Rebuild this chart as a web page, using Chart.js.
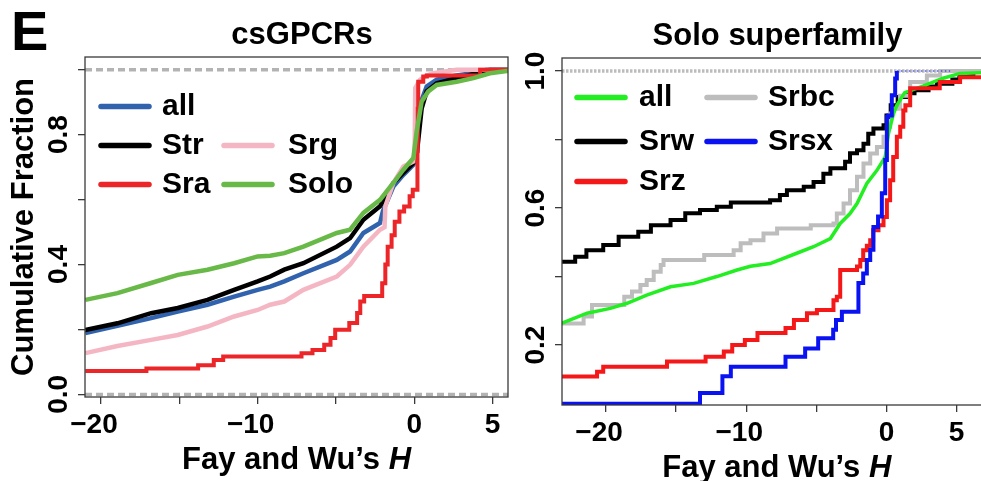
<!DOCTYPE html>
<html>
<head>
<meta charset="utf-8">
<title>Fay and Wu's H</title>
<script src="https://cdn.jsdelivr.net/npm/chart.js@4.4.1/dist/chart.umd.min.js"></script>
<style>
  html, body { margin: 0; padding: 0; background: #fff; overflow: hidden; }
  body { width: 981px; height: 481px; position: relative; }
  .panel { position: absolute; top: 0; }
  #wrapLeft { left: 0; }
  #wrapRight { left: 512px; }
</style>
</head>
<body>
<div class="panel" id="wrapLeft"><canvas id="chartLeft" width="512" height="481"></canvas></div>
<div class="panel" id="wrapRight"><canvas id="chartRight" width="488" height="481"></canvas></div>
<script>
// ============================================
// Cumulative fraction of Fay and Wu's H
// ============================================

// ── shared axis ticks ──
const X_TICKS = [-20, -15, -10, -5, 0, 5];
const X_LABELS = ['−20', '', '−10', '', '0', '5'];

// ── csGPCRs ──
const csYTicks = [0, 0.2, 0.4, 0.6, 0.8, 1.0];
const csYLabels = ['0.0', '', '0.4', '', '0.8', ''];
const csRefLevels = [0, 1];

const csAllH = [-21, -18.95, -16.8, -15.1, -13.2, -11.5, -10.0, -9.2, -8.3, -7.08, -4.95, -4.1, -3.25, -2.19, -2.0, -1.34, -0.7, -0.06, 0.15, 0.36, 0.79, 1.43, 2.7, 3.8, 4.6, 6];
const csAllF = [0.189, 0.211, 0.235, 0.255, 0.276, 0.301, 0.322, 0.332, 0.348, 0.373, 0.414, 0.44, 0.497, 0.528, 0.565, 0.64, 0.676, 0.707, 0.738, 0.892, 0.948, 0.969, 0.982, 0.99, 1.0, 1.0];

const csStrH = [-21, -18.95, -16.8, -15.1, -13.2, -11.5, -10.0, -9.2, -8.3, -7.08, -4.95, -4.1, -3.25, -2.19, -1.34, -0.7, -0.06, 0.15, 0.47, 0.79, 1.43, 2.7, 3.98, 4.83, 6];
const csStrF = [0.198, 0.219, 0.250, 0.266, 0.291, 0.322, 0.348, 0.363, 0.384, 0.404, 0.455, 0.481, 0.538, 0.579, 0.651, 0.682, 0.712, 0.737, 0.881, 0.933, 0.958, 0.974, 0.989, 1.0, 1.0];

const csSrgH = [-21, -18.95, -16.8, -15.1, -13.2, -11.5, -10.0, -9.2, -8.3, -7.08, -4.95, -4.1, -3.25, -2.19, -1.9, -1.85, -1.34, -0.7, -0.06, 0.02, 0.06, 0.36, 0.79, 1.21, 2.7, 6];
const csSrgF = [0.127, 0.149, 0.168, 0.183, 0.209, 0.240, 0.260, 0.276, 0.286, 0.322, 0.363, 0.399, 0.455, 0.507, 0.515, 0.579, 0.651, 0.702, 0.717, 0.75, 0.943, 0.969, 0.982, 0.989, 1.0, 1.0];

const csSraH = [-21, -17.1, -13.8, -12.8, -12.2, -7.2, -6.5, -5.75, -5.35, -5.05, -4.15, -3.65, -3.45, -3.2, -2.05, -1.85, -1.7, -1.45, -1.25, -0.95, -0.65, -0.3, -0.1, 0.2, 0.22, 0.25, 0.57, 0.8, 4.2, 6];
const csSraF = [0.072, 0.080, 0.090, 0.106, 0.117, 0.127, 0.137, 0.153, 0.174, 0.199, 0.22, 0.251, 0.286, 0.303, 0.342, 0.40, 0.455, 0.49, 0.532, 0.563, 0.579, 0.61, 0.63, 0.75, 0.88, 0.963, 0.979, 0.982, 1.0, 1.0];

const csSoloH = [-21, -18.95, -16.8, -15.1, -13.2, -11.5, -10.0, -9.2, -8.3, -7.08, -4.95, -4.1, -3.25, -2.19, -1.34, -0.7, -0.06, 0.15, 0.47, 0.89, 1.43, 2.7, 3.77, 4.83, 5.9, 6];
const csSoloF = [0.291, 0.312, 0.343, 0.368, 0.384, 0.404, 0.425, 0.427, 0.435, 0.455, 0.497, 0.507, 0.559, 0.599, 0.651, 0.692, 0.728, 0.809, 0.902, 0.933, 0.953, 0.963, 0.974, 0.989, 0.996, 0.996];

// ── Solo superfamily ──
const soloYTicks = [0.2, 0.4, 0.6, 0.8, 1.0];
const soloYLabels = ['0.2', '', '0.6', '', '1.0'];
const soloRefLevels = [1];

const soloAllH = [-23.2, -21.35, -19.7, -18.5, -17.1, -15.4, -13.75, -12.1, -10.66, -9.7, -8.3, -6.4, -5.2, -4.0, -3.3, -2.6, -2.1, -1.4, -0.68, -0.09, 0.14, 0.5, 0.74, 1.3, 2.6, 4.04, 5.25, 8];
const soloAllF = [0.263, 0.293, 0.307, 0.322, 0.346, 0.37, 0.38, 0.40, 0.419, 0.43, 0.438, 0.468, 0.487, 0.511, 0.555, 0.584, 0.613, 0.672, 0.71, 0.749, 0.817, 0.876, 0.9, 0.937, 0.956, 0.979, 0.993, 0.997];

const soloSrwH = [-23.2, -22.2, -21.4, -20.2, -19.1, -17.7, -16.8, -15.4, -14.35, -13.3, -12.1, -11.1, -8.3, -7.6, -7.1, -5.9, -5.2, -4.5, -4.0, -2.95, -2.6, -2.1, -1.64, -1.3, -0.93, -0.21, 0.0, 0.3, 0.8, 1.4, 2.0, 3.0, 3.6, 4.7, 5.2, 6.2, 8];
const soloSrwF = [0.443, 0.458, 0.477, 0.492, 0.516, 0.531, 0.55, 0.565, 0.585, 0.594, 0.604, 0.616, 0.623, 0.638, 0.652, 0.662, 0.676, 0.70, 0.716, 0.735, 0.76, 0.769, 0.788, 0.817, 0.832, 0.842, 0.87, 0.90, 0.924, 0.935, 0.944, 0.955, 0.963, 0.975, 0.99, 1.0, 1.0];

const soloSrzH = [-23.2, -20.64, -20.2, -15.65, -12.9, -11.6, -11.0, -10.1, -9.2, -7.2, -6.6, -5.67, -4.96, -3.78, -3.54, -3.3, -2.1, -1.87, -1.66, -1.4, -1.16, -0.95, -0.57, -0.21, 0.03, 0.26, 0.48, 0.74, 0.98, 1.2, 1.35, 1.69, 3.8, 5.25, 8];
const soloSrzF = [0.108, 0.122, 0.137, 0.152, 0.166, 0.181, 0.2, 0.215, 0.235, 0.25, 0.273, 0.293, 0.302, 0.331, 0.341, 0.419, 0.429, 0.448, 0.477, 0.49, 0.506, 0.535, 0.55, 0.574, 0.623, 0.681, 0.749, 0.808, 0.837, 0.885, 0.9, 0.95, 0.968, 0.982, 0.982];

const soloSrbcH = [-23.2, -21.6, -21.0, -18.7, -18.15, -17.55, -17.1, -16.6, -16.1, -15.9, -13.0, -10.9, -10.4, -9.7, -8.77, -7.8, -5.4, -3.78, -3.54, -3.06, -2.6, -2.1, -1.64, -1.16, -0.68, -0.21, 0.03, 0.26, 0.48, 0.97, 1.69, 2.88, 3.83, 8];
const soloSrbcF = [0.263, 0.283, 0.317, 0.341, 0.356, 0.375, 0.39, 0.414, 0.434, 0.448, 0.463, 0.477, 0.497, 0.506, 0.526, 0.54, 0.55, 0.555, 0.584, 0.613, 0.652, 0.691, 0.73, 0.759, 0.778, 0.808, 0.837, 0.876, 0.89, 0.928, 0.968, 0.987, 1.0, 1.0];

const soloSrsxH = [-23.2, -13.3, -11.7, -11.1, -7.2, -5.8, -4.87, -3.8, -3.6, -3.18, -2.0, -1.66, -1.4, -1.16, -0.93, -0.6, -0.33, -0.09, 0.03, 0.12, 0.38, 0.62, 0.74];
const soloSrsxF = [0.029, 0.060, 0.109, 0.137, 0.166, 0.19, 0.22, 0.245, 0.273, 0.297, 0.381, 0.409, 0.448, 0.478, 0.545, 0.575, 0.643, 0.74, 0.866, 0.87, 0.929, 0.978, 1.0];
const soloSrsxTailH = [0.74, 4.54];
const soloSrsxTailF = [1.0, 1.0];

// ── helpers ──

const FONT = '"Liberation Sans", Arial, Helvetica, sans-serif';

function toPoints(h, f) {
  return h.map((x, i) => ({ x, y: f[i] }));
}

function curve(label, h, f, color, width, stepped, order) {
  return {
    label,
    data: toPoints(h, f),
    borderColor: color,
    borderWidth: width,
    stepped: stepped ? 'before' : false,
    tension: 0,
    pointRadius: 0,
    fill: false,
    borderJoinStyle: 'miter',
    order,
  };
}

function refLines(levels, xMin, xMax, color, width, dash) {
  return levels.map(v => ({
    label: 'ref',
    data: [{ x: xMin, y: v }, { x: xMax, y: v }],
    borderColor: color,
    borderWidth: width,
    borderDash: dash,
    pointRadius: 0,
    fill: false,
    order: 9,
  }));
}

// frame, tick text, titles and legend
function decorPlugin(cfg) {
  return {
    id: 'decor',
    afterDraw(chart) {
      const { ctx, chartArea: a, scales } = chart;
      ctx.save();

      ctx.strokeStyle = '#3a3a3a';
      ctx.lineWidth = 1.3;
      ctx.strokeRect(a.left, a.top, a.right - a.left, a.bottom - a.top);

      ctx.fillStyle = '#000';
      ctx.textBaseline = 'alphabetic';

      // x tick labels
      ctx.font = `bold 28px ${FONT}`;
      ctx.textAlign = 'center';
      X_TICKS.forEach((v, i) => {
        const t = X_LABELS[i];
        if (!t) return;
        const px = scales.x.getPixelForValue(v) + (v < 0 ? -7 : 0);
        ctx.fillText(t, px, a.bottom + 36);
      });

      // y tick labels, written along the axis
      cfg.yTicks.forEach((v, i) => {
        const t = cfg.yLabels[i];
        if (!t) return;
        ctx.save();
        ctx.translate(a.left - 18, scales.y.getPixelForValue(v));
        ctx.rotate(-Math.PI / 2);
        ctx.fillText(t, 0, 0);
        ctx.restore();
      });

      // panel title
      ctx.font = `bold 31px ${FONT}`;
      ctx.fillText(cfg.title, cfg.titleX, a.top - 13);

      // x axis title with italic H
      const head = 'Fay and Wu’s ';
      ctx.font = `bold 31px ${FONT}`;
      const w1 = ctx.measureText(head).width;
      ctx.font = `italic bold 31px ${FONT}`;
      const w2 = ctx.measureText('H').width;
      const x0 = (a.left + a.right) / 2 - (w1 + w2) / 2;
      ctx.textAlign = 'left';
      ctx.font = `bold 31px ${FONT}`;
      ctx.fillText(head, x0, a.bottom + 72);
      ctx.font = `italic bold 31px ${FONT}`;
      ctx.fillText('H', x0 + w1, a.bottom + 72);

      if (cfg.yTitle) {
        ctx.save();
        ctx.font = `bold 31px ${FONT}`;
        ctx.textAlign = 'center';
        ctx.translate(33, (a.top + a.bottom) / 2);
        ctx.rotate(-Math.PI / 2);
        ctx.fillText(cfg.yTitle, 0, 0);
        ctx.restore();
      }

      if (cfg.letter) {
        ctx.font = `bold 56px ${FONT}`;
        ctx.textAlign = 'left';
        ctx.fillText(cfg.letter, 11, 50);
      }

      // legend
      const L = cfg.legend;
      ctx.font = `bold 30px ${FONT}`;
      ctx.textAlign = 'left';
      ctx.lineCap = 'round';
      L.names.forEach((name, i) => {
        const [col, row] = L.slots[i];
        const base = L.rows[row];
        ctx.strokeStyle = L.colors[i];
        ctx.lineWidth = 5.5;
        ctx.beginPath();
        ctx.moveTo(L.lineX[col], base - 8.5);
        ctx.lineTo(L.lineX[col] + 48, base - 8.5);
        ctx.stroke();
        ctx.fillText(name, L.textX[col], base);
      });

      ctx.restore();
    },
  };
}

function axisOptions(xMin, xMax, yMin, yMax, yTicks) {
  const grid = { drawOnChartArea: false, drawTicks: true, tickLength: 7, color: '#3a3a3a', lineWidth: 1.3 };
  return {
    x: {
      type: 'linear', min: xMin, max: xMax,
      afterBuildTicks: s => { s.ticks = X_TICKS.map(value => ({ value })); },
      afterFit: s => { s.height = 0; },
      ticks: { display: false },
      grid,
      border: { display: false },
    },
    y: {
      type: 'linear', min: yMin, max: yMax,
      afterBuildTicks: s => { s.ticks = yTicks.map(value => ({ value })); },
      afterFit: s => { s.width = 0; },
      ticks: { display: false },
      grid,
      border: { display: false },
    },
  };
}

// ── csGPCRs panel ──

const CS_X = [-21.02, 5.98];
const CS_COLORS = { all: '#3162ad', Str: '#000000', Srg: '#f5b6c3', Sra: '#ec2528', Solo: '#68b947' };

new Chart(document.getElementById('chartLeft'), {
  type: 'line',
  data: {
    datasets: [
      curve('Solo', csSoloH, csSoloF, CS_COLORS.Solo, 4.5, false, 0),
      curve('Sra', csSraH, csSraF, CS_COLORS.Sra, 4, true, 1),
      curve('Srg', csSrgH, csSrgF, CS_COLORS.Srg, 4.5, false, 2),
      curve('Str', csStrH, csStrF, CS_COLORS.Str, 4.5, false, 3),
      curve('all', csAllH, csAllF, CS_COLORS.all, 4.5, false, 4),
      ...refLines(csRefLevels, CS_X[0], CS_X[1], '#b3b3b3', 3.5, [7, 4]),
    ],
  },
  options: {
    responsive: false,
    animation: false,
    layout: { padding: { left: 85, right: 4, top: 57, bottom: 84 } },
    plugins: { legend: { display: false }, tooltip: { enabled: false } },
    scales: axisOptions(CS_X[0], CS_X[1], -0.008, 1.039, csYTicks),
  },
  plugins: [decorPlugin({
    yTicks: csYTicks,
    yLabels: csYLabels,
    title: 'csGPCRs',
    titleX: 302,
    yTitle: 'Cumulative Fraction',
    letter: 'E',
    legend: {
      names: ['all', 'Str', 'Srg', 'Sra', 'Solo'],
      colors: [CS_COLORS.all, CS_COLORS.Str, CS_COLORS.Srg, CS_COLORS.Sra, CS_COLORS.Solo],
      slots: [[0, 0], [0, 1], [1, 1], [0, 2], [1, 2]],
      lineX: [101, 224],
      textX: [162, 288],
      rows: [115, 154, 193],
    },
  })],
});

// ── Solo superfamily panel ──

const SOLO_X = [-23.14, 7.49];
const SOLO_COLORS = { all: '#22ee22', Srw: '#000000', Srz: '#f51818', Srbc: '#bdbdbd', Srsx: '#0a12f2' };

new Chart(document.getElementById('chartRight'), {
  type: 'line',
  data: {
    datasets: [
      curve('Srsx', soloSrsxH, soloSrsxF, SOLO_COLORS.Srsx, 4, true, 0),
      { ...curve('Srsx tail', soloSrsxTailH, soloSrsxTailF, SOLO_COLORS.Srsx, 1.2, false, 0), borderDash: [1.5, 2.5] },
      curve('Srz', soloSrzH, soloSrzF, SOLO_COLORS.Srz, 4, true, 1),
      curve('all', soloAllH, soloAllF, SOLO_COLORS.all, 3.5, false, 2),
      curve('Srbc', soloSrbcH, soloSrbcF, SOLO_COLORS.Srbc, 4, true, 3),
      curve('Srw', soloSrwH, soloSrwF, SOLO_COLORS.Srw, 4, true, 4),
      ...refLines(soloRefLevels, SOLO_X[0], SOLO_X[1], '#bcbcbc', 3.5, [2.5, 1.5]),
    ],
  },
  options: {
    responsive: false,
    animation: false,
    layout: { padding: { left: 50, right: 8.5, top: 58, bottom: 76 } },
    plugins: { legend: { display: false }, tooltip: { enabled: false } },
    scales: axisOptions(SOLO_X[0], SOLO_X[1], 0.025, 1.038, soloYTicks),
  },
  plugins: [decorPlugin({
    yTicks: soloYTicks,
    yLabels: soloYLabels,
    title: 'Solo superfamily',
    titleX: 265.5,
    legend: {
      names: ['all', 'Srbc', 'Srw', 'Srsx', 'Srz'],
      colors: [SOLO_COLORS.all, SOLO_COLORS.Srbc, SOLO_COLORS.Srw, SOLO_COLORS.Srsx, SOLO_COLORS.Srz],
      slots: [[0, 0], [1, 0], [0, 1], [1, 1], [0, 2]],
      lineX: [65, 195],
      textX: [127, 256],
      rows: [106, 150, 190],
    },
  })],
});
</script>
</body>
</html>
